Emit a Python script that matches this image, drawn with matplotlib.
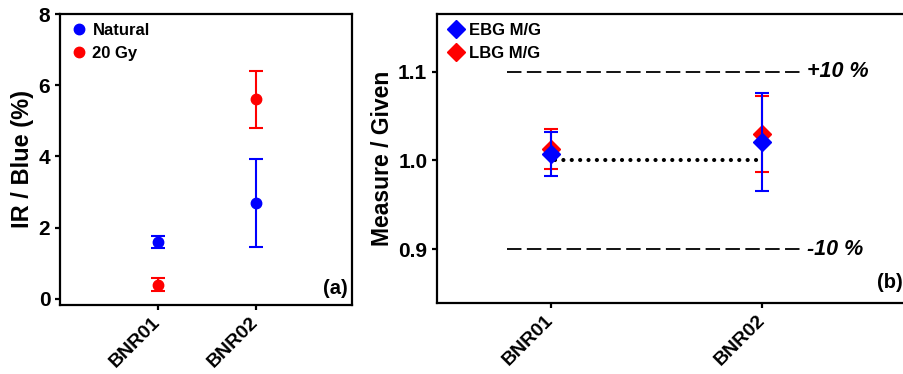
import matplotlib
matplotlib.use("Agg")
import matplotlib.pyplot as plt
from matplotlib.lines import Line2D

plt.rcParams['font.family'] = ['Liberation Sans', 'DejaVu Sans']
plt.rcParams['font.weight'] = 'bold'

samples = ["BNR01", "BNR02"]
# panel (a)
natural = [1.6, 2.7]
natural_err_lo = [0.17, 1.23]
natural_err_hi = [0.17, 1.23]
gy20 = [0.4, 5.6]
gy20_err = [0.18, 0.8]
yticks_a = [0, 2, 4, 6, 8]
# panel (b)
ebg = [1.007, 1.021]
ebg_err_lo = [0.024, 0.055]
ebg_err_hi = [0.025, 0.055]
lbg = [1.013, 1.030]
lbg_err_lo = [0.023, 0.043]
lbg_err_hi = [0.023, 0.043]
yticks_b = [0.9, 1.0, 1.1]
ref_upper = 1.1
ref_lower = 0.9
ref_mid = 1.0

fig = plt.figure(figsize=(9.04, 3.74), dpi=100)
W, H = 904, 374
axa = fig.add_axes([60 / W, 1 - 305 / H, (352 - 60) / W, (305 - 14) / H])
axb = fig.add_axes([437 / W, 1 - 303 / H, (912 - 437) / W, (303 - 14) / H])

x = [1, 2]
blue = "#0000ff"
red = "#ff0000"

# Panel a
axa.errorbar(x, natural, yerr=[natural_err_lo, natural_err_hi], fmt='o', color=blue,
             ms=7.5, capsize=4.8, elinewidth=1.5, capthick=1.5, zorder=3)
axa.errorbar(x, gy20, yerr=gy20_err, fmt='o', color=red,
             ms=7.5, capsize=4.8, elinewidth=1.5, capthick=1.5, zorder=3)
axa.set_xlim(0, 2.98)
axa.set_ylim(-0.17, 8)
axa.set_yticks(yticks_a)
axa.set_xticks(x)
axa.set_ylabel("IR / Blue (%)", fontsize=17, fontweight='bold', labelpad=3)
axa.text(0.985, 0.025, "(a)", transform=axa.transAxes, ha='right', va='bottom',
         fontsize=14.5, fontweight='bold')
ha = [Line2D([], [], ls='none', marker='o', color=blue, ms=7.5),
      Line2D([], [], ls='none', marker='o', color=red, ms=7.5)]
axa.legend(ha, ["Natural", "20 Gy"], loc='upper left', frameon=False, fontsize=12,
           handletextpad=0.2, borderaxespad=0.15, labelspacing=0.45, handlelength=1.2)

# Panel b
axb.hlines(ref_upper, 0.79, 2.18, colors='black', linestyles=(0, (8, 3)), lw=1.3)
axb.hlines(ref_lower, 0.79, 2.18, colors='black', linestyles=(0, (8, 3)), lw=1.3)
dl = axb.hlines(ref_mid, 1.02, 1.98, colors='black', linestyles=(0, (0.01, 2)), lw=3)
dl.set_capstyle('round')
axb.text(2.215, ref_upper, "+10 %", ha='left', va='center', fontsize=15.5,
         fontweight='bold', style='italic')
axb.text(2.215, ref_lower, "-10 %", ha='left', va='center', fontsize=15.5,
         fontweight='bold', style='italic')
axb.errorbar(x, lbg, yerr=[lbg_err_lo, lbg_err_hi], fmt='D', color=red,
             ms=9.5, capsize=4.8, elinewidth=1.5, capthick=1.5, zorder=3)
axb.errorbar(x, ebg, yerr=[ebg_err_lo, ebg_err_hi], fmt='D', color=blue,
             ms=9.5, capsize=4.8, elinewidth=1.5, capthick=1.5, zorder=4)
axb.set_xlim(0.46, 2.71)
axb.set_ylim(0.8395, 1.165)
axb.set_yticks(yticks_b)
axb.set_yticklabels(["0.9", "1.0", "1.1"])
axb.set_xticks(x)
axb.set_ylabel("Measure / Given", fontsize=16.5, fontweight='bold', labelpad=3)
axb.text(2.665, 0.852, "(b)", ha='right', va='bottom', fontsize=14.5, fontweight='bold')
hb = [Line2D([], [], ls='none', marker='D', color=blue, ms=9),
      Line2D([], [], ls='none', marker='D', color=red, ms=9)]
axb.legend(hb, ["EBG M/G", "LBG M/G"], loc='upper left', frameon=False, fontsize=12,
           handletextpad=0.2, borderaxespad=0.15, labelspacing=0.45, handlelength=1.2)

for ax in (axa, axb):
    for s in ax.spines.values():
        s.set_linewidth(1.6)
    ax.tick_params(axis='both', direction='out', width=1.6, length=3.5, labelsize=15)
    ax.tick_params(axis='x', pad=7, labelsize=14)
    ax.set_xticklabels(samples, rotation=45, ha='right', va='center', rotation_mode='anchor')
    for lab in ax.get_xticklabels() + ax.get_yticklabels():
        lab.set_fontweight('bold')

fig.savefig("out.png", dpi=100)
